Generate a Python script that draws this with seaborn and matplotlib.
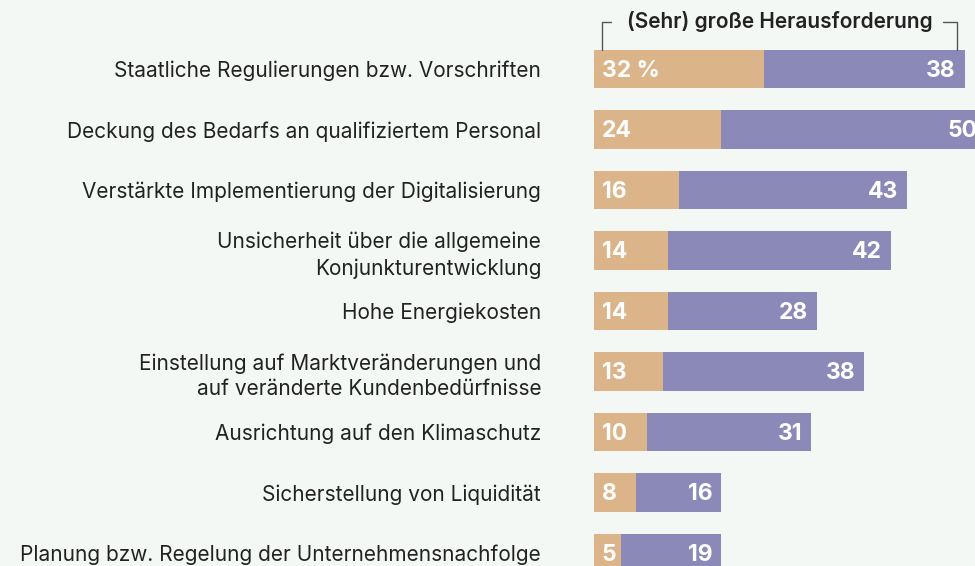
import numpy as np
import pandas as pd
import matplotlib.pyplot as plt
import seaborn as sns

kategorien = [
    "Staatliche Regulierungen bzw. Vorschriften",
    "Deckung des Bedarfs an qualifiziertem Personal",
    "Verstärkte Implementierung der Digitalisierung",
    "Unsicherheit über die allgemeine\nKonjunkturentwicklung",
    "Hohe Energiekosten",
    "Einstellung auf Marktveränderungen und\nauf veränderte Kundenbedürfnisse",
    "Ausrichtung auf den Klimaschutz",
    "Sicherstellung von Liquidität",
    "Planung bzw. Regelung der Unternehmensnachfolge",
]
sehr_gross = [32, 24, 16, 14, 14, 13, 10, 8, 5]
gross = [38, 50, 43, 42, 28, 38, 31, 16, 19]

bg = "#f4f8f5"
beige = "#dbb489"
lila = "#8b89b7"
textfarbe = "#222222"

df = pd.DataFrame({"kategorie": kategorien, "sehr": sehr_gross, "gross": gross})
df["gesamt"] = df["sehr"] + df["gross"]

sns.set_theme(style="white")
plt.rcParams["font.family"] = ["Inter", "DejaVu Sans"]

fig = plt.figure(figsize=(9.75, 5.66), dpi=100, facecolor=bg)
px_pro_einheit = 5.3
links = 594 / 975
xmax = (975 - 594) / px_pro_einheit
ax = fig.add_axes([links, 0, 1 - links, 1])
ax.set_facecolor(bg)

sns.barplot(data=df, x="gesamt", y="kategorie", color=lila, width=0.63,
            saturation=1, linewidth=0, ax=ax, orient="h")
sns.barplot(data=df, x="sehr", y="kategorie", color=beige, width=0.63,
            saturation=1, linewidth=0, ax=ax, orient="h")

ax.set_xlim(0, xmax)
ax.set_ylim(8 + 13 / 60.5, -69 / 60.5)
ax.set_xlabel("")
ax.set_ylabel("")
ax.set_xticks([])
sns.despine(ax=ax, left=True, bottom=True)
ax.tick_params(axis="y", length=0, pad=38, labelsize=15, labelcolor=textfarbe)
for lab in ax.get_yticklabels():
    lab.set_linespacing(1.35)

for i, (s, g) in enumerate(zip(sehr_gross, gross)):
    t1 = f"{s} %" if i == 0 else str(s)
    ax.text(1.5, i + 0.03, t1, ha="left", va="center", color="white",
            fontsize=16.5, fontweight="bold", clip_on=False)
    # die 50 ragt wie im Original über den rechten Rand hinaus
    ax.text(s + g - 1.7, i + 0.03, str(g), ha="right", va="center", color="white",
            fontsize=16.5, fontweight="bold", clip_on=False)

# Klammer über den Balken
y_oben = -69 / 60.5 + 22 / 60.5
y_unten = 0 - 0.63 / 2
kw = dict(color="#555555", lw=1.0, clip_on=False)
ax.plot([1.5, 1.5, 3.2], [y_unten, y_oben, y_oben], **kw)
ax.plot([65.8, 68.5, 68.5], [y_oben, y_oben, y_unten], **kw)
ax.text((780 - 594) / px_pro_einheit, y_oben, "(Sehr) große Herausforderung",
        ha="center", va="center", fontsize=15, fontweight="semibold",
        color=textfarbe, clip_on=False)

fig.savefig("out.png", dpi=100, facecolor=bg)
